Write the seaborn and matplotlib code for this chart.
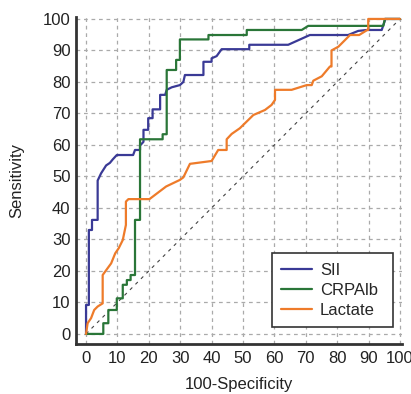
import matplotlib
matplotlib.use("Agg")
import matplotlib.pyplot as plt
import seaborn as sns
import pandas as pd
from matplotlib.ticker import MultipleLocator

# ROC curve vertices (100-Specificity, Sensitivity)
sii_x = [0, 0, 0.9, 0.9, 1.9, 1.9, 3.7, 3.7, 4.8, 6.4, 7.6, 8.5, 9.8, 15, 15.6, 17.2,
         17.2, 18.3, 18.3, 19.8, 19.8, 21.2, 21.2, 23.6, 23.6, 25.2, 25.7, 27.3, 29.9,
         31, 31.5, 37.4, 37.4, 40, 40, 41.6, 43.2, 52, 52, 64.4, 71.3, 83.5, 86.7,
         89.5, 94.2, 95.2, 95.2, 100]
sii_y = [0, 9.2, 9.2, 33, 33, 36.2, 36.2, 48.7, 51, 53.5, 54.3, 55.4, 56.8, 56.8, 58.4,
         58.4, 59.8, 61, 64.8, 64.8, 68.5, 68.5, 71.3, 71.3, 75.9, 75.9, 77.5, 78.3, 79,
         80, 82.2, 82.2, 86.4, 86.4, 87.5, 88.2, 90.4, 90.4, 91.8, 91.8, 94.9, 94.9, 96.2,
         96.5, 96.5, 99.5, 100, 100]

crp_x = [0, 5.5, 5.5, 7.1, 7.1, 9.8, 9.8, 11.7, 11.7, 13, 13, 14.2, 14.2, 15.6, 15.6,
         17.2, 17.2, 24.4, 24.4, 25.7, 25.7, 28.7, 28.7, 29.9, 29.9, 39, 39, 51.2, 51.2,
         68.7, 70.8, 94.7, 95.2, 100]
crp_y = [0, 0, 3.4, 3.4, 7.6, 7.6, 11.3, 11.3, 15.6, 15.6, 17.1, 17.1, 18.7, 18.7, 36.2,
         36.2, 61.8, 61.8, 63.4, 63.4, 83.8, 83.8, 87, 87, 93.5, 93.5, 94.9, 94.9, 96.5,
         96.5, 97.8, 97.8, 100, 100]

lac_x = [0, 0.5, 1.6, 2.6, 3.7, 5.3, 5.3, 6.9, 8, 9.3, 10.4, 11.7, 12.7, 12.7, 13.5,
         20.2, 25.5, 29.9, 31, 33.1, 40, 42.1, 44.8, 44.8, 46.4, 49, 53.3, 57, 59.1,
         60.2, 60.2, 65.5, 70.3, 71.9, 72.4, 75.1, 77.7, 78.2, 78.2, 80.4, 84.1, 87,
         89.6, 89.9, 89.9, 100]
lac_y = [0, 3.4, 5, 7.6, 8.7, 9.7, 18.7, 20.9, 22.4, 25.6, 27.2, 29.8, 34.6, 42, 42.8,
         42.8, 46.8, 48.9, 49.7, 54, 54.9, 58.4, 58.4, 61.8, 63.5, 65.3, 69.5, 71.1, 72.7,
         74.3, 77.5, 77.5, 79, 79, 80.4, 81.8, 84.9, 84.9, 90, 91.2, 94.9, 94.9, 96.5,
         96.5, 100, 100]

names = ["SII", "CRPAlb", "Lactate"]
colors = ["#3a3a96", "#2a7638", "#ee7b2a"]
ticks = list(range(0, 101, 10))

sns.set_style("white")
plt.rcParams['font.family'] = ['Liberation Sans', 'DejaVu Sans']

fig = plt.figure(figsize=(4.11, 3.94), dpi=100)
ax = fig.add_axes([0.1849, 0.1269, 0.792, 0.829])

# reference diagonal
ax.plot([0, 100], [0, 100], color="#444444", lw=0.8, dashes=(3, 4), zorder=2)

for name, xs, ys, c in zip(names, [sii_x, crp_x, lac_x], [sii_y, crp_y, lac_y], colors):
    df = pd.DataFrame({"fpr": xs, "tpr": ys})
    sns.lineplot(data=df, x="fpr", y="tpr", sort=False, estimator=None,
                 color=c, lw=1.6, label=name, ax=ax, zorder=3)

ax.set_xlim(-3.2, 100.5)
ax.set_ylim(-3.2, 100.5)
ax.set_xticks(ticks)
ax.set_yticks(ticks)
ax.xaxis.set_minor_locator(MultipleLocator(2))
ax.yaxis.set_minor_locator(MultipleLocator(2))
ax.grid(True, which="major", color="#aaaaaa", lw=0.9, ls=(0, (3, 3)))
ax.tick_params(which="major", direction="in", length=6.5, width=1.3, color="#333333",
               labelsize=12, labelcolor="#222222")
ax.tick_params(which="minor", direction="in", length=4, width=1, color="#333333")
ax.tick_params(axis="x", pad=5)
ax.tick_params(axis="y", pad=4)

for s in ["top", "right"]:
    ax.spines[s].set_visible(False)
for s in ["left", "bottom"]:
    ax.spines[s].set_color("#333333")
    ax.spines[s].set_linewidth(2)

ax.set_xlabel("100-Specificity", fontsize=12, color="#222222", labelpad=8)
ax.set_ylabel("Sensitivity", fontsize=12, color="#222222", labelpad=13)

leg = ax.legend(loc="lower left", bbox_to_anchor=(0.601, 0.053, 0.3735, 0.2),
                mode="expand", fontsize=12, frameon=True, fancybox=False,
                edgecolor="#333333", framealpha=1, borderpad=0.55, labelspacing=0.3,
                handlelength=1.85, handletextpad=0.5, borderaxespad=0)
leg.get_frame().set_linewidth(1.2)

fig.savefig("out.png", dpi=100)
